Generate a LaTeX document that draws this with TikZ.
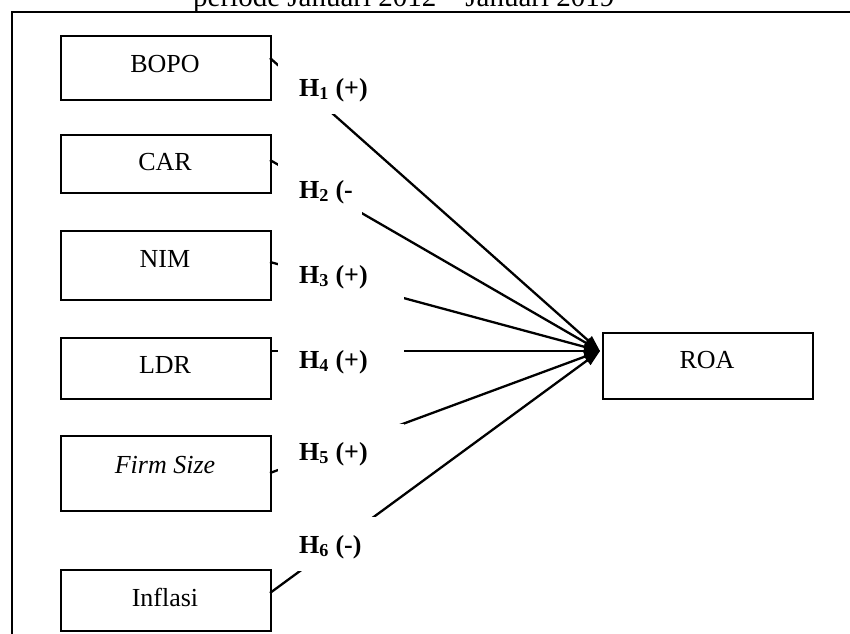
\documentclass[tikz,border=0pt]{standalone}
\usepackage{fontspec}
\setmainfont{Liberation Serif}
\usetikzlibrary{arrows.meta}
\begin{document}
\begin{tikzpicture}[x=1pt,y=-1pt,
  varbox/.style={draw=black, line width=1.6pt, fill=white, anchor=north west, inner sep=0pt, minimum width=210pt},
  boxtext/.style={anchor=base, inner sep=0pt, font=\fontsize{26}{30}\selectfont},
  link/.style={line width=2.3pt, -{Triangle[length=16pt,width=11pt]}},
  hbox/.style={fill=white, draw=none, anchor=north west, minimum width=126pt, minimum height=54pt, inner sep=0pt},
  htext/.style={anchor=base west, inner sep=0pt, font=\fontsize{26}{30}\selectfont\bfseries},
  frameline/.style={line width=1.8pt}]
\useasboundingbox (0,0) rectangle (850,633);
% outer frame
\draw[frameline] (12,645) -- (12,12) -- (865,12);
% title (cut at top)
\node[anchor=base west, inner sep=0pt, font=\fontsize{29}{33}\selectfont] (title) at (193,6.5) {periode Januari 2012 \textendash{} Januari 2019};
% variable boxes
\node[varbox, minimum height=64pt] (bopo) at (60,35) {};
\node[boxtext] (bopot) at (165,72) {BOPO};
\node[varbox, minimum height=58pt] (car) at (60,134) {};
\node[boxtext] (cart) at (165,170) {CAR};
\node[varbox, minimum height=69pt] (nim) at (60,230) {};
\node[boxtext] (nimt) at (165,267) {NIM};
\node[varbox, minimum height=61pt] (ldr) at (60,337) {};
\node[boxtext] (ldrt) at (165,373) {LDR};
\node[varbox, minimum height=75pt] (fs) at (60,435) {};
\node[boxtext] (fst) at (165,473) {\itshape Firm Size};
\node[varbox, minimum height=61pt] (inf) at (60,569) {};
\node[boxtext] (inft) at (165,606) {Inflasi};
\node[varbox, minimum height=66pt] (roa) at (602,332) {};
\node[boxtext] (roat) at (707,368) {ROA};
% connector end points
\coordinate (s1) at (270,58);
\coordinate (s2) at (270,160);
\coordinate (s3) at (270,262);
\coordinate (s4) at (270,351);
\coordinate (s5) at (270,473);
\coordinate (s6) at (270,593);
\coordinate (t) at (600,351);
\draw[link] (s1) -- (t);
\draw[link] (s2) -- (t);
\draw[link] (s3) -- (t);
\draw[link] (s4) -- (t);
\draw[link] (s5) -- (t);
\draw[link] (s6) -- (t);
% hypothesis label boxes
\node[hbox] (h1) at (278,60) {};
\node[hbox, minimum width=84pt] (h2) at (278,162) {};
\node[hbox] (h3) at (278,247) {};
\node[hbox] (h4) at (278,332) {};
\node[hbox] (h5) at (278,424) {};
\node[hbox] (h6) at (278,517) {};
\node[htext] (h1t) at (299,96) {H\textsubscript{1} (+)};
\node[htext] (h2t) at (299,198) {H\textsubscript{2} (-};
\node[htext] (h3t) at (299,283) {H\textsubscript{3} (+)};
\node[htext] (h4t) at (299,368) {H\textsubscript{4} (+)};
\node[htext] (h5t) at (299,460) {H\textsubscript{5} (+)};
\node[htext] (h6t) at (299,553) {H\textsubscript{6} (-)};
\end{tikzpicture}
\end{document}
